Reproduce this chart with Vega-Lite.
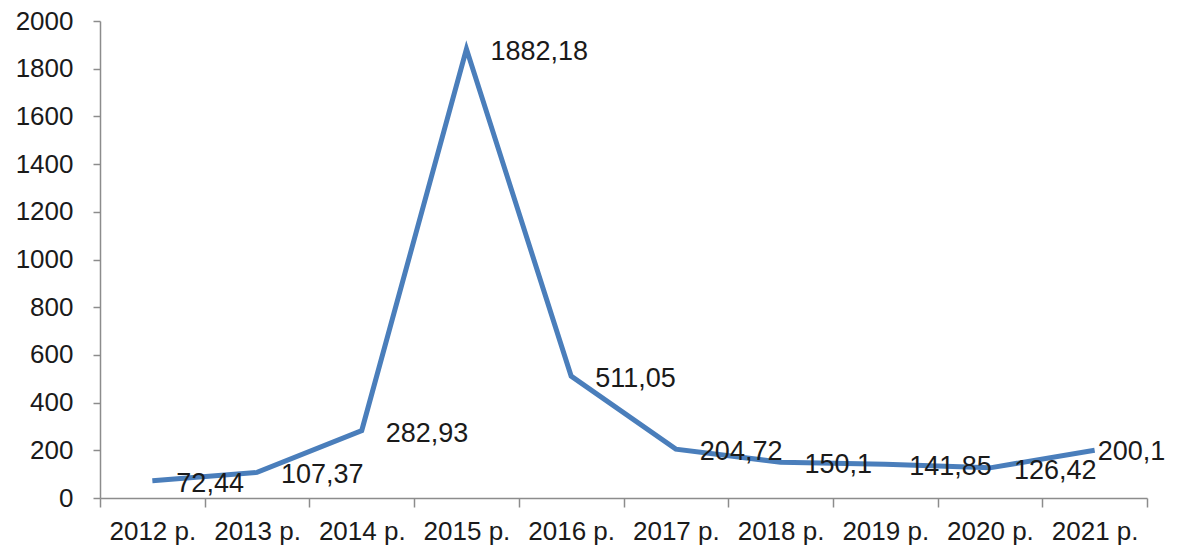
{
  "$schema": "https://vega.github.io/schema/vega-lite/v6.json",
  "autosize": "none",
  "width": 1047,
  "height": 477,
  "padding": {"left": 100, "top": 21, "right": 38, "bottom": 53},
  "background": "white",
  "config": {"view": {"stroke": null}, "font": "Liberation Sans"},
  "data": {"values": [
    {"year": "2012 р.", "value": 72.44, "label": "72,44"},
    {"year": "2013 р.", "value": 107.37, "label": "107,37"},
    {"year": "2014 р.", "value": 282.93, "label": "282,93"},
    {"year": "2015 р.", "value": 1882.18, "label": "1882,18"},
    {"year": "2016 р.", "value": 511.05, "label": "511,05"},
    {"year": "2017 р.", "value": 204.72, "label": "204,72"},
    {"year": "2018 р.", "value": 150.1, "label": "150,1"},
    {"year": "2019 р.", "value": 141.85, "label": "141,85"},
    {"year": "2020 р.", "value": 126.42, "label": "126,42"},
    {"year": "2021 р.", "value": 200.1, "label": "200,1"}
  ]},
  "encoding": {
    "x": {"field": "year", "type": "nominal", "sort": null,
      "scale": {"paddingInner": 0, "paddingOuter": 0},
      "axis": {"title": null, "labelAngle": 0, "tickBand": "extent", "domainColor": "#8c8c8c", "domainWidth": 1.5,
        "tickColor": "#8c8c8c", "tickWidth": 1.5, "tickSize": 9, "labelFontSize": 26, "labelColor": "#1a1a1a",
        "labelPadding": 11, "labelFont": "Liberation Sans"}},
    "y": {"field": "value", "type": "quantitative",
      "scale": {"domain": [0, 2000], "nice": false},
      "axis": {"title": null, "values": [0,200,400,600,800,1000,1200,1400,1600,1800,2000], "grid": false, "format": "d",
        "domainColor": "#8c8c8c", "domainWidth": 1.5, "tickColor": "#8c8c8c", "tickWidth": 1.5, "tickSize": 7,
        "labelFontSize": 26, "labelColor": "#1a1a1a", "labelPadding": 20, "labelFont": "Liberation Sans"}}
  },
  "layer": [
    {"mark": {"type": "line", "color": "#4a7ebb", "strokeWidth": 5, "strokeJoin": "miter"}},
    {"transform": [{"filter": "datum.year != '2021 р.'"}],
     "mark": {"type": "text", "align": "left", "baseline": "middle", "dx": 24, "dy": 3, "fontSize": 27, "color": "#1a1a1a"},
     "encoding": {"text": {"field": "label"}}},
    {"transform": [{"filter": "datum.year == '2021 р.'"}],
     "mark": {"type": "text", "align": "left", "baseline": "middle", "dx": 3, "dy": 2, "fontSize": 27, "color": "#1a1a1a"},
     "encoding": {"text": {"field": "label"}}}
  ]
}
